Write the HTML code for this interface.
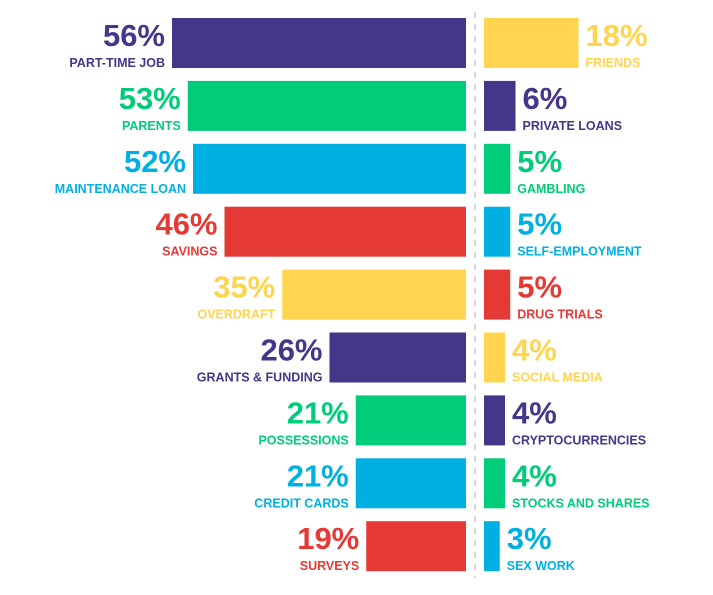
<!DOCTYPE html>
<html><head><meta charset="utf-8"><style>
html,body{margin:0;padding:0;background:#fff;}
svg text{font-family:"Liberation Sans",sans-serif;font-weight:bold;}
</style></head><body>
<svg id="chart" width="713" height="590" xmlns="http://www.w3.org/2000/svg">
<line x1="475" y1="12" x2="475" y2="578" stroke="#c8c8d0" stroke-width="1.5" stroke-dasharray="6,6"/>
</svg>
<script>
const leftCategories=["PART-TIME JOB","PARENTS","MAINTENANCE LOAN","SAVINGS","OVERDRAFT","GRANTS & FUNDING","POSSESSIONS","CREDIT CARDS","SURVEYS"];
const leftValues=[56,53,52,46,35,26,21,21,19];
const rightCategories=["FRIENDS","PRIVATE LOANS","GAMBLING","SELF-EMPLOYMENT","DRUG TRIALS","SOCIAL MEDIA","CRYPTOCURRENCIES","STOCKS AND SHARES","SEX WORK"];
const rightValues=[18,6,5,5,5,4,4,4,3];
const leftColors=["#45368a","#00cc7a","#00b0e2","#e53935","#ffd54f","#45368a","#00cc7a","#00b0e2","#e53935"];
const rightColors=["#ffd54f","#45368a","#00cc7a","#00b0e2","#e53935","#ffd54f","#45368a","#00cc7a","#00b0e2"];
const svg=document.getElementById('chart');
const NS="http://www.w3.org/2000/svg";
const scale=5.25, leftEnd=466, rightStart=484, top0=18, pitch=62.9, barH=50;
function xLen(v){return v*scale;}
function yRow(i){return top0+i*pitch;}
function mk(tag,attrs){const e=document.createElementNS(NS,tag);for(const k in attrs)e.setAttribute(k,attrs[k]);svg.appendChild(e);return e;}
leftValues.forEach((v,i)=>{
  const y=yRow(i), w=xLen(v), x=leftEnd-w, c=leftColors[i];
  const r=mk('rect',{x:x,y:y,width:w,height:barH,fill:c});
  
  
  const t=mk('text',{x:x-7,y:y+28,'text-anchor':'end','font-size':31,fill:c});
  t.textContent=v+'%';
  
  
  const l=mk('text',{x:x-7,y:y+49,'text-anchor':'end','font-size':12.5,fill:c});
  l.textContent=leftCategories[i];
  
  
});
rightValues.forEach((v,i)=>{
  const y=yRow(i), w=xLen(v), c=rightColors[i];
  const r=mk('rect',{x:rightStart,y:y,width:w,height:barH,fill:c});
  
  
  const t=mk('text',{x:rightStart+w+7,y:y+28,'font-size':31,fill:c});
  t.textContent=v+'%';
  
  
  const l=mk('text',{x:rightStart+w+7,y:y+49,'font-size':12.5,fill:c});
  l.textContent=rightCategories[i];
  
  
});
</script>
</body></html>
